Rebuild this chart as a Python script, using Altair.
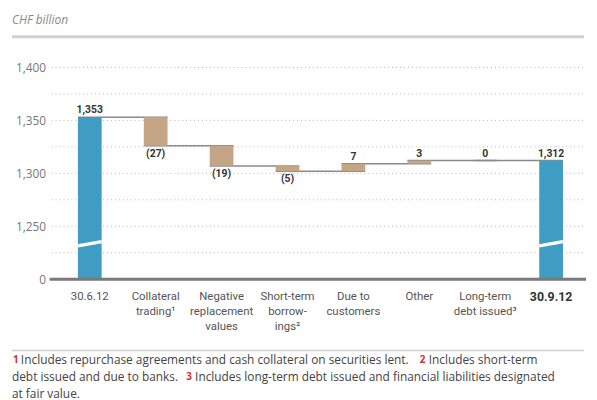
import altair as alt
import pandas as pd

categories = ["30.6.12", "Collateral trading", "Negative replacement values",
              "Short-term borrowings", "Due to customers", "Other",
              "Long-term debt issued", "30.9.12"]
tick_lines = [["30.6.12"], ["Collateral", "trading¹"], ["Negative", "replacement", "values"],
              ["Short-term", "borrow-", "ings²"], ["Due to", "customers"], ["Other"],
              ["Long-term", "debt issued³"], ["30.9.12"]]
values = [1353, -27, -19, -5, 7, 3, 0, 1312]
value_labels = ["1,353", "(27)", "(19)", "(5)", "7", "3", "0", "1,312"]
is_total = [True, False, False, False, False, False, False, True]
axis_floor = 1200          # value drawn at the broken "0" baseline
break_left = [1231.5]      # axis break gap (left edge)
break_right = [1235.5]     # axis break gap (right edge)
y_ticks = [1200, 1225, 1250, 1275, 1300, 1325, 1350, 1375, 1400]

BLUE = "#3f9cc2"
TAN = "#c6a486"
FONT = "Roboto"
FFONT = "Open Sans"

rows = []
level = None
for i, (c, v, lab, tot) in enumerate(zip(categories, values, value_labels, is_total)):
    if tot:
        start, end = axis_floor, v
        level = v
    else:
        start, end = level, level + v
        level = end
    rows.append(dict(idx=i, cat=c, start=start, end=end, top=max(start, end),
                     bot=min(start, end), label=lab, total=tot, neg=v < 0,
                     x0=i - 0.18, x1=i + 0.18,
                     lines=tick_lines[i], bold=(i == len(categories) - 1)))
df = pd.DataFrame(rows)
one = pd.DataFrame({"k": [0]})

# connectors: from left edge of bar i to right edge of bar i+1 at level end_i
conn = []
for i in range(len(rows) - 1):
    conn.append(dict(x0=i - 0.18, x1=i + 1 + 0.18, lvl=rows[i]["end"]))
conn_df = pd.DataFrame(conn)

xscale = alt.Scale(domain=[-0.58, 7.5], nice=False, zero=False)
yscale = alt.Scale(domain=[1200, 1400], nice=False, zero=False)

base = alt.Chart(df)

grid = alt.Chart(pd.DataFrame({"y": y_ticks})).mark_rule(
    color="#b5b5b5", strokeDash=[1, 3], strokeWidth=1
).encode(
    y=alt.Y("y:Q", scale=yscale,
            axis=alt.Axis(values=[1200, 1250, 1300, 1350, 1400], title=None, ticks=False,
                          domain=False, grid=False, labelFont=FFONT, labelFontSize=12,
                          labelFontWeight="normal",
                          labelColor="#777", labelPadding=6,
                          labelExpr="datum.value == 1200 ? '0' : format(datum.value, ',')")),
    x=alt.value(0), x2=alt.value(538)
)

connectors = alt.Chart(conn_df).mark_rule(color="#8a8a8a", strokeWidth=1.5).encode(
    x=alt.X("x0:Q", scale=xscale, axis=None), x2="x1:Q",
    y=alt.Y("lvl:Q", scale=yscale)
)

bars = base.mark_rect().encode(
    x=alt.X("x0:Q", scale=xscale, axis=None), x2="x1:Q",
    y=alt.Y("start:Q", scale=yscale), y2="end:Q",
    color=alt.condition("datum.total", alt.value(BLUE), alt.value(TAN))
)

brk = pd.DataFrame([dict(x0=r["x0"], x1=r["x1"], b0=break_left[0], b1=break_right[0])
                    for r in rows if r["total"]])
breaks = alt.Chart(brk).mark_rule(color="white", strokeWidth=3.5).encode(
    x=alt.X("x0:Q", scale=xscale), x2="x1:Q",
    y=alt.Y("b0:Q", scale=yscale), y2="b1:Q"
)

labels_up = base.transform_filter("!datum.neg").mark_text(
    font=FONT, fontSize=10.5, fontWeight="bold", color="#333", baseline="bottom", dy=-2
).encode(x=alt.X("idx:Q", scale=xscale), y=alt.Y("top:Q", scale=yscale), text="label:N")

labels_dn = base.transform_filter("datum.neg").mark_text(
    font=FONT, fontSize=10.5, fontWeight="bold", color="#333", baseline="top", dy=3
).encode(x=alt.X("idx:Q", scale=xscale), y=alt.Y("bot:Q", scale=yscale), text="label:N")

baseline = alt.Chart(one).mark_rule(color="#7a7a7a", strokeWidth=3).encode(
    x=alt.value(-2), x2=alt.value(540), y=alt.value(214)
)

cat_norm = base.transform_filter("!datum.bold").mark_text(
    font=FONT, fontSize=11.5, fontWeight="normal", color="#555", baseline="top", lineHeight=15
).encode(x=alt.X("idx:Q", scale=xscale), y=alt.value(226), text="lines")

cat_bold = base.transform_filter("datum.bold").mark_text(
    font=FONT, fontSize=12.5, fontWeight="bold", color="#333", baseline="top", lineHeight=15
).encode(x=alt.X("idx:Q", scale=xscale), y=alt.value(226), text="lines")

# header and footer decorations
hdr = alt.Chart(one).mark_text(font=FFONT, fontSize=12, fontStyle="italic", fontWeight="normal",
                               color="#888", align="left", baseline="middle").encode(
    x=alt.value(-40), y=alt.value(-48), text=alt.value("CHF billion"))
hdr_line = alt.Chart(one).mark_rule(color="#d0d0d0", strokeWidth=3).encode(
    x=alt.value(-40), x2=alt.value(538), y=alt.value(-31))
foot_line = alt.Chart(one).mark_rule(color="#d0d0d0", strokeWidth=1.5).encode(
    x=alt.value(-40), x2=alt.value(538), y=alt.value(286))

def ftext(txt, x, y, color="#444", size=12, weight="normal"):
    return alt.Chart(one).mark_text(font=FFONT, fontSize=size, fontWeight=weight, color=color,
                                    align="left", baseline="middle").encode(
        x=alt.value(x), y=alt.value(y), text=alt.value(txt))

RED = "#d0312d"
foot = [
    ftext("1", -39, 296, RED, 10, "bold"),
    ftext("Includes repurchase agreements and cash collateral on securities lent.", -31, 296),
    ftext("2", 372, 296, RED, 10, "bold"),
    ftext("Includes short-term", 381, 296),
    ftext("debt issued and due to banks.", -40, 313),
    ftext("3", 136, 313, RED, 10, "bold"),
    ftext("Includes long-term debt issued and financial liabilities designated", 145, 313),
    ftext("at fair value.", -40, 330),
]

chart = alt.layer(grid, connectors, bars, breaks, baseline, labels_up, labels_dn,
                  cat_norm, cat_bold, hdr, hdr_line, foot_line, *foot).properties(
    width=538, height=214,
    autosize=alt.AutoSizeParams(type="none"),
    padding={"left": 44, "top": 58, "right": 5, "bottom": 120},
).configure_view(stroke=None)

chart.save("out.html", embed_options={"renderer": "svg", "actions": False})
